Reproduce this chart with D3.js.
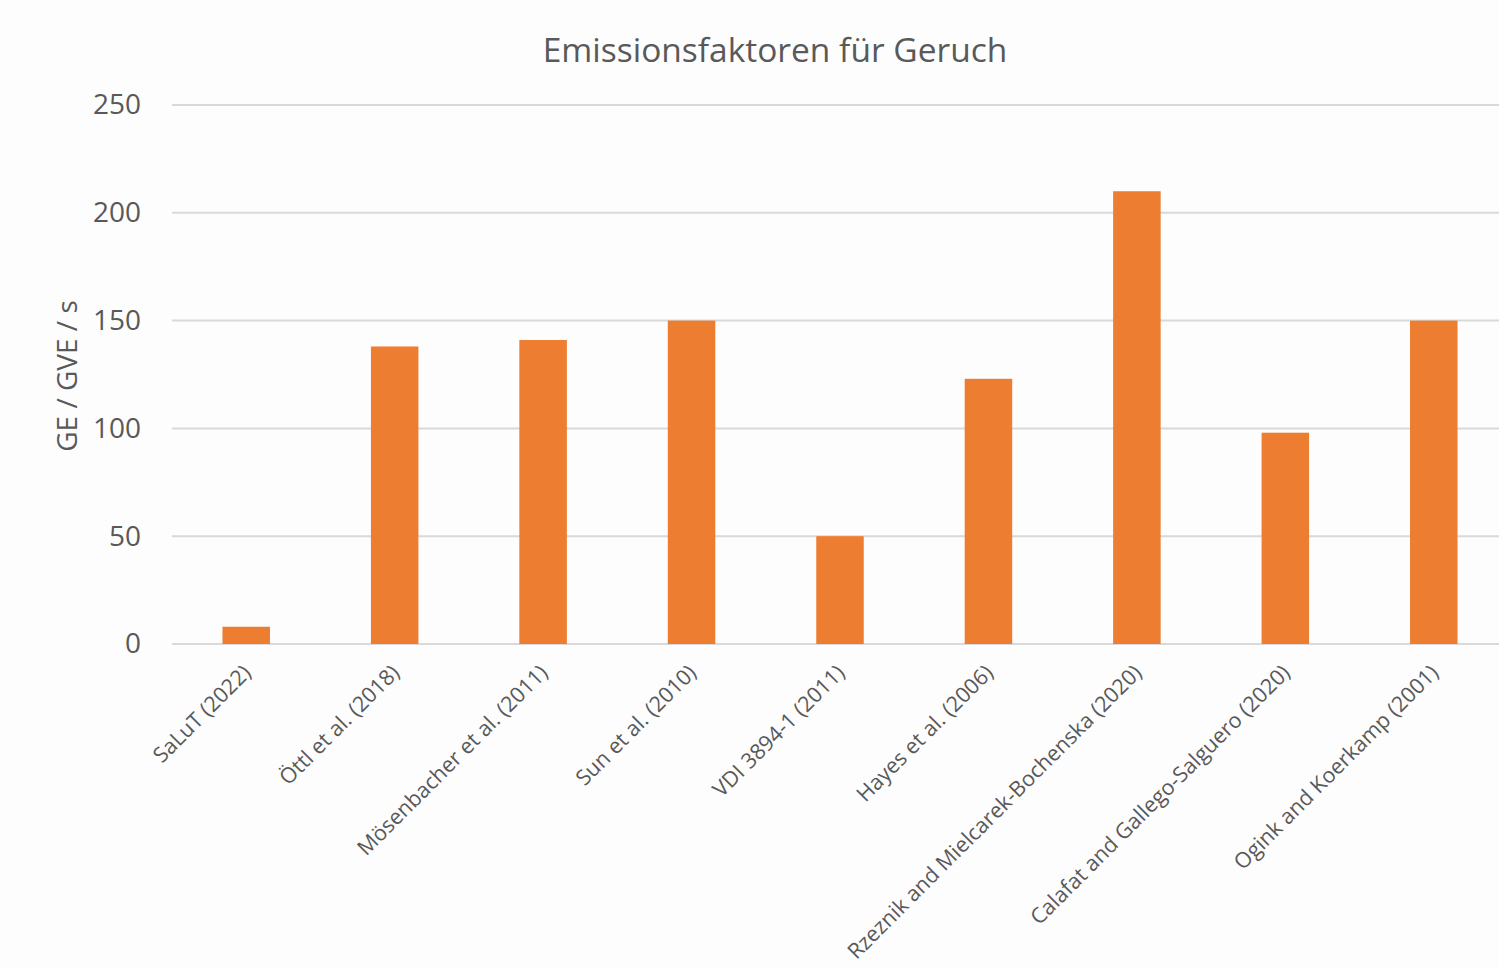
<!DOCTYPE html>
<html><head><meta charset="utf-8">
<script src="https://cdn.jsdelivr.net/npm/d3@7"></script>
<style>
html,body{margin:0;padding:0;background:#fdfdfd;}
svg{display:block;font-family:"Open Sans","Noto Sans",sans-serif;}
</style></head>
<body>
<svg id="chart" width="1499" height="968"></svg>
<script>
const categories = ["SaLuT (2022)","Öttl et al. (2018)","Mösenbacher et al. (2011)","Sun et al. (2010)","VDI 3894-1 (2011)","Hayes et al. (2006)","Rzeznik and Mielcarek-Bochenska (2020)","Calafat and Gallego-Salguero (2020)","Ogink and Koerkamp (2001)"];
const values = [8, 138, 141, 150, 50, 123, 210, 98, 150];
const yTicks = [0, 50, 100, 150, 200, 250];
const title = "Emissionsfaktoren für Geruch";
const yLabel = "GE / GVE / s";

(function(){
const svg = d3.select("#chart");
const mLeft = 172, mRight = 1508, mTop = 105, mBottom = 644;
const x = d3.scaleBand().domain(categories).range([mLeft, mRight]).paddingInner(0.68).paddingOuter(0.34);
const y = d3.scaleLinear().domain([0, 250]).range([mBottom, mTop]);
const grey = "#595959";

// gridlines
svg.append("g").selectAll("line").data(yTicks).join("line")
  .attr("x1", mLeft).attr("x2", 1499)
  .attr("y1", d => y(d)).attr("y2", d => y(d))
  .attr("stroke", "#d9d9d9").attr("stroke-width", 2);

// y axis labels
const yAxis = d3.axisLeft(y).tickValues(yTicks).tickSize(0).tickPadding(0);
const gy = svg.append("g").attr("transform", "translate(141,0)").call(yAxis);
gy.select(".domain").remove();
gy.selectAll("text").attr("fill", grey).attr("font-size", 28).attr("font-family", "'Open Sans','Noto Sans',sans-serif");

// bars
svg.append("g").selectAll("rect").data(categories).join("rect")
  .attr("x", d => x(d)).attr("width", x.bandwidth())
  .attr("y", (d, i) => y(values[i])).attr("height", (d, i) => y(0) - y(values[i]))
  .attr("fill", "#ed7d31");

// x labels
const xAxis = d3.axisBottom(x).tickSize(0).tickPadding(0);
const gx = svg.append("g").attr("transform", `translate(0,${mBottom})`).call(xAxis);
gx.select(".domain").remove();
gx.selectAll("text")
  .attr("fill", grey).attr("font-size", 21.5).attr("font-family", "'Open Sans','Noto Sans',sans-serif")
  .attr("text-anchor", "end").attr("dy", null).attr("y", 0)
  .attr("transform", "translate(6,30) rotate(-45)");

// title
svg.append("text").attr("x", 775).attr("y", 62).attr("text-anchor", "middle")
  .attr("fill", grey).attr("font-size", 33.5).text(title);

// y label
svg.append("text").attr("transform", "translate(77,376) rotate(-90)").attr("text-anchor", "middle")
  .attr("fill", grey).attr("font-size", 28).text(yLabel);
})();
</script>
</body></html>
